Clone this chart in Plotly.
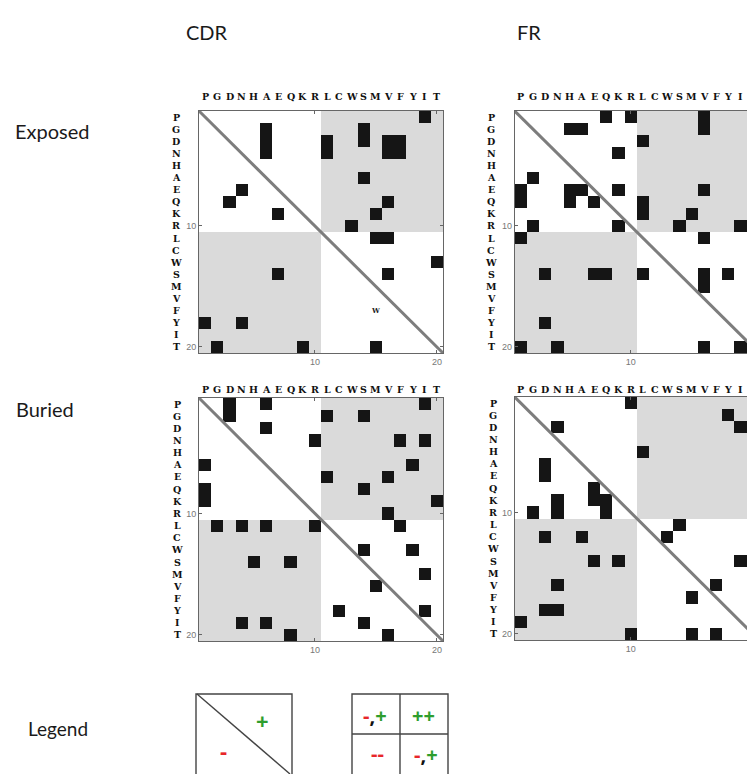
import plotly.graph_objects as go

# The page body has an 8px margin, so the figure is drawn 8px in from the top-left
OFF = 8
W, H = 755 - OFF, 774 - OFF

residues = ["P", "G", "D", "N", "H", "A", "E", "Q", "K", "R",
            "L", "C", "W", "S", "M", "V", "F", "Y", "I", "T"]
tick_values = [10, 20]

# black cells as (row, col), 1-based, rows top->bottom in residue order
cdr_exposed = [(1, 19), (2, 6), (3, 6), (4, 6), (3, 11), (4, 11), (2, 14), (3, 14),
               (3, 16), (3, 17), (4, 16), (4, 17), (6, 14), (7, 4), (8, 3), (9, 7),
               (8, 16), (9, 15), (10, 13), (11, 15), (11, 16), (13, 20), (14, 7),
               (14, 16), (18, 1), (18, 4), (20, 2), (20, 9), (20, 15)]
fr_exposed = [(1, 8), (1, 10), (1, 16), (2, 16), (2, 5), (2, 6), (3, 11), (4, 9), (6, 2),
              (7, 1), (8, 1), (7, 5), (8, 5), (7, 6), (8, 7), (7, 9), (7, 16), (8, 11),
              (9, 11), (8, 20), (9, 15), (10, 14), (10, 19), (10, 2), (10, 9), (11, 1),
              (11, 16), (14, 3), (14, 7), (14, 8), (14, 11), (14, 16), (15, 16), (14, 18),
              (18, 3), (20, 1), (20, 4), (20, 16), (20, 19)]
cdr_buried = [(1, 3), (2, 3), (1, 6), (1, 19), (2, 11), (2, 14), (3, 6), (4, 10), (4, 17),
              (4, 19), (6, 1), (6, 18), (7, 11), (7, 16), (8, 14), (8, 1), (9, 1), (9, 20),
              (10, 16), (11, 2), (11, 4), (11, 6), (11, 10), (11, 17), (13, 14), (13, 18),
              (14, 5), (14, 8), (15, 19), (16, 15), (18, 12), (18, 19), (19, 4), (19, 6),
              (19, 14), (20, 8), (20, 16)]
fr_buried = [(1, 10), (1, 20), (2, 18), (3, 19), (3, 4), (5, 11), (6, 3), (7, 3), (8, 7),
             (9, 7), (9, 8), (10, 8), (9, 4), (10, 4), (10, 2), (10, 20), (11, 14), (12, 13),
             (12, 3), (12, 6), (14, 7), (14, 9), (14, 19), (16, 4), (16, 17), (17, 15),
             (18, 3), (18, 4), (19, 1), (19, 20), (20, 10), (20, 15), (20, 17)]

# stray glyph printed inside the CDR exposed panel
stray_glyph = ("W", 15, 17)

column_titles = ["CDR", "FR"]
row_titles = ["Exposed", "Buried"]


def px_x(p):
    return (p - OFF) / W


def px_y(p):
    return 1 - (p - OFF) / H


n = len(residues)


def build_z(cells):
    z = []
    for r in range(1, n + 1):
        row = []
        for c in range(1, n + 1):
            v = 1 if ((r <= 10 and c >= 11) or (r >= 11 and c <= 10)) else 0
            row.append(v)
        z.append(row)
    for r, c in cells:
        z[r - 1][c - 1] = 2
    return z


GREY = "#dadada"
BLACK = "#151515"
cscale = [[0, "white"], [0.33, "white"], [0.33, GREY], [0.67, GREY], [0.67, BLACK], [1, BLACK]]

# panel pixel boxes in reference coords: (left, right, top, bottom)
panels = [
    dict(cells=cdr_exposed, box=(199, 443, 111, 353), letters_y=97, letters_x=176, clip=False),
    dict(cells=fr_exposed, box=(514.7, 759, 111, 353), letters_y=97, letters_x=491, clip=True),
    dict(cells=cdr_buried, box=(199, 443, 398, 641), letters_y=389, letters_x=177, clip=False),
    dict(cells=fr_buried, box=(514.7, 759, 397, 640), letters_y=389, letters_x=493, clip=True),
]

fig = go.Figure()
annotations = []
idx = list(range(1, n + 1))
layout_axes = {}
letter_font = dict(family="DejaVu Serif", size=9.5, color="#111")

for i, p in enumerate(panels, start=1):
    xa = "x" if i == 1 else f"x{i}"
    ya = "y" if i == 1 else f"y{i}"
    l, r, t, b = p["box"]
    cell_w = (r - l) / n
    if p["clip"]:
        x_end = 0.5 + (755 - l) / cell_w
        xdom = [px_x(l), 1.0]
    else:
        x_end = 20.5
        xdom = [px_x(l), px_x(r)]
    ydom = [px_y(b), px_y(t)]

    fig.add_trace(go.Heatmap(z=build_z(p["cells"]), x=idx, y=idx, colorscale=cscale,
                             zmin=0, zmax=2, showscale=False, hoverinfo="skip",
                             xaxis=xa, yaxis=ya))
    fig.add_trace(go.Scatter(x=[0.5, 20.5], y=[0.5, 20.5], mode="lines",
                             line=dict(color="#7d7d7d", width=3), hoverinfo="skip",
                             showlegend=False, xaxis=xa, yaxis=ya))

    axis_common = dict(showgrid=False, zeroline=False, tickvals=tick_values, ticks="inside",
                       ticklen=3, tickcolor="#666", showline=True, linecolor="#666",
                       linewidth=1, tickfont=dict(family="Liberation Sans", size=9, color="#777"))
    layout_axes["xaxis" if i == 1 else f"xaxis{i}"] = dict(
        domain=xdom, range=[0.5, x_end], anchor=ya, mirror="allticks", **axis_common)
    layout_axes["yaxis" if i == 1 else f"yaxis{i}"] = dict(
        domain=ydom, range=[20.5, 0.5], anchor=xa,
        mirror=(False if p["clip"] else "allticks"), **axis_common)

    # residue letters along top and left
    for k, res in enumerate(residues, start=1):
        annotations.append(dict(text=f"<b>{res}</b>", x=k, y=px_y(p["letters_y"]), xref=xa,
                                yref="paper", showarrow=False, xanchor="center",
                                yanchor="middle", font=letter_font))
        annotations.append(dict(text=f"<b>{res}</b>", x=px_x(p["letters_x"]), y=k, xref="paper",
                                yref=ya, showarrow=False, xanchor="center", yanchor="middle",
                                font=letter_font))

annotations.append(dict(text=f"<b>{stray_glyph[0]}</b>", x=stray_glyph[1], y=stray_glyph[2],
                        xref="x", yref="y", showarrow=False, xanchor="center", yanchor="middle",
                        font=dict(family="DejaVu Serif", size=7, color="#222")))


def label(text, x, y, font, xanchor="center"):
    return dict(text=text, x=px_x(x), y=px_y(y), xref="paper", yref="paper",
                showarrow=False, xanchor=xanchor, yanchor="middle", font=font)


title_font = dict(family="Lato", size=20, color="#1a1a1a")
annotations.append(label(column_titles[0], 207, 32, title_font))
annotations.append(label(column_titles[1], 529, 32, title_font))
annotations.append(label(row_titles[0], 13, 131, title_font, "left"))
annotations.append(label(row_titles[1], 14, 409, title_font, "left"))
annotations.append(label("Legend", 26, 728, dict(family="Lato", size=19, color="#1a1a1a"), "left"))

# legend glyphs
RED = "#e8262a"
GREEN = "#2e9e2e"
annotations.append(label("<b>+</b>", 262, 720, dict(family="Open Sans", size=22, color=GREEN)))
annotations.append(label("<b>-</b>", 223, 750, dict(family="Open Sans", size=22, color=RED)))

mixed = (f"<b><span style='color:{RED}'>-</span><span style='color:#111'>,</span>"
         f"<span style='color:{GREEN}'>+</span></b>")
annotations.append(label(mixed, 375, 715, dict(family="Open Sans", size=20)))
annotations.append(label("<b>++</b>", 423, 715, dict(family="Open Sans", size=20, color=GREEN)))
annotations.append(label("<b>--</b>", 377, 753, dict(family="Open Sans", size=20, color=RED)))
annotations.append(label(mixed, 426, 754, dict(family="Open Sans", size=20)))

box_line = dict(color="#444", width=1.4)
shapes = [
    dict(type="rect", xref="paper", yref="paper", x0=px_x(196), x1=px_x(292),
         y0=px_y(694), y1=px_y(790), line=box_line),
    dict(type="line", xref="paper", yref="paper", x0=px_x(197), x1=px_x(290),
         y0=px_y(694), y1=px_y(774), line=box_line),
    dict(type="rect", xref="paper", yref="paper", x0=px_x(352), x1=px_x(448),
         y0=px_y(694), y1=px_y(790), line=box_line),
    dict(type="line", xref="paper", yref="paper", x0=px_x(400), x1=px_x(400),
         y0=px_y(694), y1=px_y(790), line=box_line),
    dict(type="line", xref="paper", yref="paper", x0=px_x(352), x1=px_x(448),
         y0=px_y(734), y1=px_y(734), line=box_line),
]

fig.update_layout(width=W, height=H, margin=dict(l=0, r=0, t=0, b=0),
                  paper_bgcolor="white", plot_bgcolor="white", showlegend=False,
                  annotations=annotations, shapes=shapes, **layout_axes)

fig.write_html("out.html")
